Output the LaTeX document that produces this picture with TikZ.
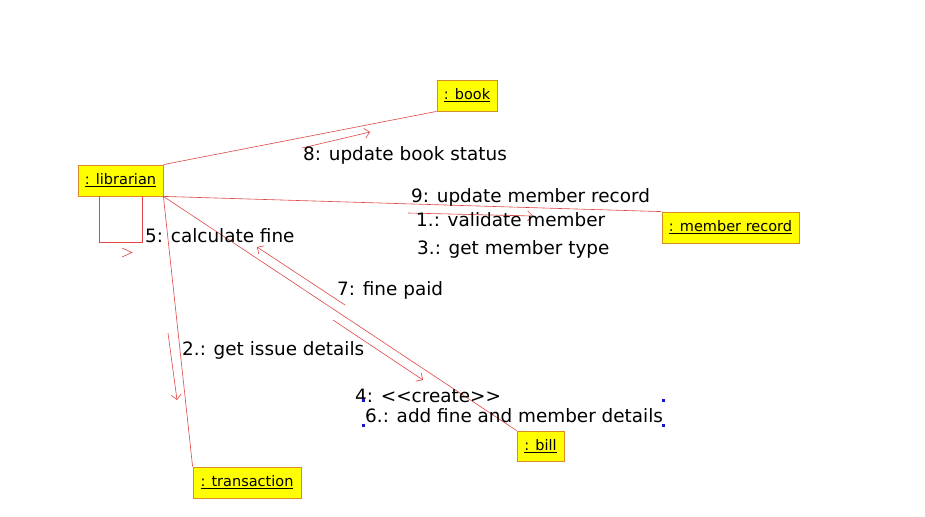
\documentclass[tikz,border=0pt]{standalone}
\usepackage{fontspec}
\setmainfont{DejaVu Sans}
\usetikzlibrary{arrows.meta}
\definecolor{linered}{RGB}{225,70,70}
\definecolor{objfill}{RGB}{255,255,0}
\definecolor{objborder}{RGB}{215,140,40}
\definecolor{handleblue}{RGB}{20,20,200}
\begin{document}
\begin{tikzpicture}[x=1pt,y=-1pt,
  obj/.style={draw=objborder, fill=objfill, line width=0.8pt, inner sep=0pt,
    font=\fontsize{14.5}{17}\selectfont},
  assoc/.style={draw=linered, line width=0.6pt},
  msg/.style={draw=linered, line width=0.6pt, -{Straight Barb[length=5pt,width=10pt]}},
  lbl/.style={anchor=base west, inner sep=0pt, font=\fontsize{18.4}{22}\selectfont},
  handle/.style={fill=handleblue, draw=none, minimum size=3pt, inner sep=0pt}]
\useasboundingbox[fill=white] (0,0) rectangle (925,516);

% objects
\node[obj, minimum width=85pt, minimum height=31pt] (lib) at (120.5,180.5) {\underline{: librarian}};
\node[obj, minimum width=60pt, minimum height=31pt] (book) at (467,95.5) {\underline{: book}};
\node[obj, minimum width=137pt, minimum height=31pt] (mem) at (730.5,227.5) {\underline{: member record}};
\node[obj, minimum width=108pt, minimum height=31pt] (trans) at (247,482.5) {\underline{: transaction}};
\node[obj, minimum width=47pt, minimum height=30pt] (bill) at (540.5,446) {\underline{: bill}};

% links
\draw[assoc] (lib.north east) -- (book.south west);
\draw[assoc] (lib.south east) -- (mem.north west);
\draw[assoc] (lib.south east) -- (bill.north west);
\draw[assoc] (lib.south east) -- (trans.north west);
\draw[assoc] ([xshift=-21.5pt]lib.south) -- ++(0,46) -| ([xshift=21.5pt]lib.south);

% message arrows
\coordinate (m8s) at (302,148);  \coordinate (m8e) at (370,132);
\coordinate (m1s) at (408,213);  \coordinate (m1e) at (533,216);
\coordinate (m7s) at (345,305);  \coordinate (m7e) at (257,247);
\coordinate (m4s) at (333,320);  \coordinate (m4e) at (423,380);
\coordinate (m2s) at (168,333);  \coordinate (m2e) at (177,400);
\draw[msg] (m8s) -- (m8e);
\draw[msg] (m1s) -- (m1e);
\draw[msg] (m7s) -- (m7e);
\draw[msg] (m4s) -- (m4e);
\draw[msg] (m2s) -- (m2e);
\draw[draw=linered, line width=0.6pt] (122,248) -- (132,252.5) -- (122,257);

% labels
\node[lbl] (l8) at (303,160) {8: update book status};
\node[lbl] (l9) at (411,202) {9: update member record};
\node[lbl] (l1) at (416,226) {1.: validate member};
\node[lbl] (l3) at (417,254) {3.: get member type};
\node[lbl] (l5) at (145,242) {5: calculate fine};
\node[lbl] (l7) at (337,295) {7: fine paid};
\node[lbl] (l2) at (182,355) {2.: get issue details};
\node[lbl] (l4) at (355,402) {4: <{}<create>{}>};
\node[lbl] (l6) at (365,422) {6.: add fine and member details};

% selection handles
\node[handle] (h1) at (363,400) {};
\node[handle] (h2) at (363,425) {};
\node[handle] (h3) at (663,400) {};
\node[handle] (h4) at (663,425) {};
\end{tikzpicture}
\end{document}
